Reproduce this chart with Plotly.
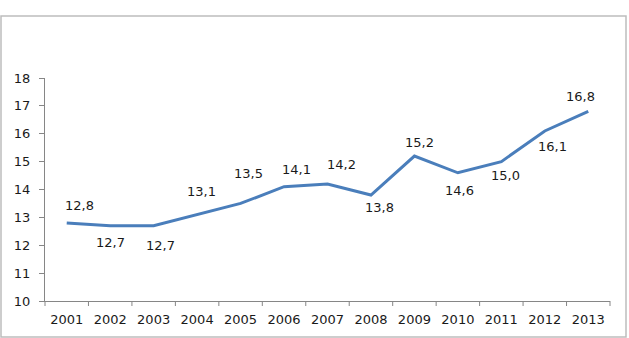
import plotly.graph_objects as go

years = ["2001", "2002", "2003", "2004", "2005", "2006", "2007", "2008", "2009", "2010", "2011", "2012", "2013"]
values = [12.8, 12.7, 12.7, 13.1, 13.5, 14.1, 14.2, 13.8, 15.2, 14.6, 15.0, 16.1, 16.8]
y_ticks = [10, 11, 12, 13, 14, 15, 16, 17, 18]

# label placement offsets in pixels (style only)
label_dx = [13, 0, 7, 4, 8, 12, 14, 9, 5, 2, 4, 8, -8]
label_dy = [17, -17, -20, 23, 30, 17, 19, -12, 14, -18, -14, -16, 15]

W, H = 629, 338
L, R, T, B = 45, 19, 78, 37
pw, ph = W - L - R, H - T - B

fig = go.Figure()
fig.add_trace(go.Scatter(x=years, y=values, mode="lines",
                         line=dict(color="#4A7EBB", width=3), hoverinfo="skip"))

for i, v in enumerate(values):
    fig.add_annotation(x=i, y=v, xref="x", yref="y", text=f"{v:.1f}".replace(".", ","),
                       showarrow=False, xshift=label_dx[i], yshift=label_dy[i],
                       font=dict(family="DejaVu Sans", size=13, color="#1a1a1a"))

fig.add_shape(type="rect", xref="paper", yref="paper",
              x0=(1 - L) / pw, x1=(626 - L) / pw,
              y0=(H - B - 337) / ph, y1=(H - B - 16) / ph,
              line=dict(color="#BDBDBD", width=1.5), layer="below")

fig.update_layout(
    width=W, height=H, margin=dict(l=L, r=R, t=T, b=B),
    paper_bgcolor="white", plot_bgcolor="white", showlegend=False,
    font=dict(family="DejaVu Sans", size=13, color="#1a1a1a"),
)
fig.update_xaxes(type="category", range=[-0.5, 12.5], showgrid=False, zeroline=False,
                 showline=True, linecolor="#868686", linewidth=1, automargin=False,
                 ticks="", ticklabelstandoff=6, tickfont=dict(size=13))
fig.update_yaxes(range=[10, 18], tickvals=y_ticks, showgrid=False, zeroline=False,
                 showline=True, linecolor="#868686", linewidth=1, automargin=False,
                 ticks="outside", ticklen=5, tickcolor="#868686",
                 ticklabelstandoff=6, tickfont=dict(size=13))

# category boundary ticks on x axis
for i in range(len(years) + 1):
    fig.add_shape(type="line", xref="paper", yref="paper",
                  x0=i / len(years), x1=i / len(years), y0=0, y1=-5 / ph,
                  line=dict(color="#868686", width=1))

fig.write_html("out.html")
